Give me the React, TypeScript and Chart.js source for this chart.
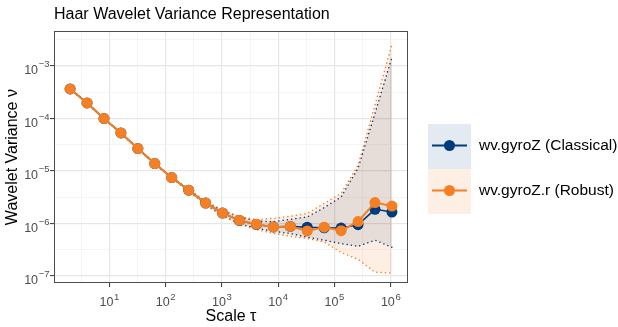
import React, { useEffect, useRef } from "react";
import { Chart, registerables } from "chart.js";

Chart.register(...registerables);

// ---- data ----
const SCALES = [2, 4, 8, 16, 32, 64, 128, 256, 512, 1024, 2048, 4096, 8192, 16384, 32768, 65536, 131072, 262144, 524288, 1048576];

const CLASSICAL = [3.65e-4, 1.97e-4, 9.95e-5, 5.29e-5, 2.67e-5, 1.38e-5, 7.49e-6, 4.3e-6, 2.45e-6, 1.58e-6, 1.14e-6, 9.6e-7, 8.6e-7, 8.8e-7, 8.5e-7, 8.3e-7, 8.2e-7, 9.5e-7, 1.86e-6, 1.65e-6];
const CLASSICAL_UPPER = [3.67e-4, 1.98e-4, 1.0e-4, 5.32e-5, 2.69e-5, 1.39e-5, 7.56e-6, 4.45e-6, 2.6e-6, 1.76e-6, 1.32e-6, 1.12e-6, 1.08e-6, 1.2e-6, 1.33e-6, 2.0e-6, 3.2e-6, 1.13e-5, 1.25e-4, 1.47e-3];
const CLASSICAL_LOWER = [3.63e-4, 1.96e-4, 9.9e-5, 5.26e-5, 2.65e-5, 1.37e-5, 7.42e-6, 4.15e-6, 2.3e-6, 1.42e-6, 9.9e-7, 8.1e-7, 7.1e-7, 6.45e-7, 5.5e-7, 4.8e-7, 4.14e-7, 3.68e-7, 4.8e-7, 3.52e-7];

const ROBUST = [3.65e-4, 1.97e-4, 9.95e-5, 5.29e-5, 2.67e-5, 1.38e-5, 7.49e-6, 4.3e-6, 2.45e-6, 1.58e-6, 1.15e-6, 9.7e-7, 8.6e-7, 8.8e-7, 7.2e-7, 8.5e-7, 7.3e-7, 1.09e-6, 2.5e-6, 2.15e-6];
const ROBUST_UPPER = [3.68e-4, 1.985e-4, 1.003e-4, 5.33e-5, 2.7e-5, 1.395e-5, 7.6e-6, 4.52e-6, 2.66e-6, 1.8e-6, 1.36e-6, 1.19e-6, 1.25e-6, 1.37e-6, 1.55e-6, 2.4e-6, 3.76e-6, 1.29e-5, 1.83e-4, 2.59e-3];
const ROBUST_LOWER = [3.62e-4, 1.955e-4, 9.87e-5, 5.25e-5, 2.64e-5, 1.365e-5, 7.38e-6, 4.1e-6, 2.26e-6, 1.38e-6, 9.6e-7, 7.6e-7, 6.5e-7, 5.7e-7, 5.2e-7, 4.45e-7, 2.8e-7, 2.08e-7, 1.18e-7, 1.14e-7];

const SERIES_LABELS = ["wv.gyroZ (Classical)", "wv.gyroZ.r (Robust)"];
const TITLE = "Haar Wavelet Variance Representation";
const X_TITLE = "Scale \u03c4";
const Y_TITLE = "Wavelet Variance \u03bd";

// major tick exponents (labels are 10^e) and minor grid exponents
const X_TICK_EXPONENTS = [1, 2, 3, 4, 5, 6];
const X_MINOR_EXPONENTS = [0.5, 1.5, 2.5, 3.5, 4.5, 5.5];
const Y_TICK_EXPONENTS = [-7, -6, -5, -4, -3];
const Y_MINOR_EXPONENTS = [-6.5, -5.5, -4.5, -3.5, -2.5];

const X_MIN = 10 ** 0.015;
const X_MAX = 10 ** 6.306;
const Y_MIN = 10 ** -7.133;
const Y_MAX = 10 ** -2.339;

// ---- styles ----
const BLUE = "#003C7D";
const ORANGE = "#F47F24";
const BLUE_FILL = "rgba(0,60,125,0.11)";
const ORANGE_FILL = "rgba(244,127,36,0.12)";
const FONT = "'Liberation Sans', Arial, Helvetica, sans-serif";
const TICK_COLOR = "#4D4D4D";

function isMajor(v: number): boolean {
  const l = Math.log10(v);
  return Math.abs(l - Math.round(l)) < 1e-6;
}

const tickValues = (major: number[], minor: number[]) =>
  [...major, ...minor].sort((a, b) => a - b).map((e) => ({ value: 10 ** e }));

const pts = (ys: number[]) => SCALES.map((x, i) => ({ x, y: ys[i] }));

function drawPow(ctx: CanvasRenderingContext2D, exp: number, x: number, baseY: number, raise: number, align: "center" | "right") {
  const base = "10";
  const e = String(exp).replace("-", "\u2212");
  ctx.font = `12.5px ${FONT}`;
  const wb = ctx.measureText(base).width;
  ctx.font = `9.5px ${FONT}`;
  const we = ctx.measureText(e).width;
  const gap = 0.6;
  const total = wb + gap + we;
  const x0 = align === "center" ? x - total / 2 : x - total;
  ctx.textAlign = "left";
  ctx.textBaseline = "alphabetic";
  ctx.fillStyle = TICK_COLOR;
  ctx.font = `12.5px ${FONT}`;
  ctx.fillText(base, x0, baseY);
  ctx.font = `9.5px ${FONT}`;
  ctx.fillText(e, x0 + wb + gap, baseY - raise);
}

const ggDecor = {
  id: "ggDecor",
  afterDraw(chart: any) {
    const ctx = chart.ctx as CanvasRenderingContext2D;
    const area = chart.chartArea;
    ctx.save();
    // panel border
    ctx.strokeStyle = "#4d4d4d";
    ctx.lineWidth = 1;
    ctx.strokeRect(Math.round(area.left) + 0.5, Math.round(area.top) + 0.5, Math.round(area.right - area.left) - 1, Math.round(area.bottom - area.top) - 1);

    // tick labels as 10^e
    const xs = chart.scales.x;
    const ys = chart.scales.y;
    for (const e of X_TICK_EXPONENTS) {
      const px = xs.getPixelForValue(10 ** e);
      drawPow(ctx, e, px, area.bottom + 22.5, 5.8, "center");
    }
    for (const e of Y_TICK_EXPONENTS) {
      const py = ys.getPixelForValue(10 ** e);
      drawPow(ctx, e, area.left - 4.5, py + 8.3, 7.2, "right");
    }

    // legend
    const items = [
      { label: SERIES_LABELS[0], color: BLUE, bg: BLUE_FILL },
      { label: SERIES_LABELS[1], color: ORANGE, bg: ORANGE_FILL },
    ];
    const keyW = 43;
    const keyH = 45;
    const x0 = area.right + 20;
    const mid = (area.top + area.bottom) / 2;
    let y = Math.round(mid - 33);
    for (const it of items) {
      ctx.fillStyle = "#ffffff";
      ctx.fillRect(x0, y, keyW, keyH);
      ctx.fillStyle = it.bg;
      ctx.fillRect(x0, y, keyW, keyH);
      const cy = y + 21.5;
      ctx.strokeStyle = it.color;
      ctx.lineWidth = 1.8;
      ctx.beginPath();
      ctx.moveTo(x0 + 4, cy);
      ctx.lineTo(x0 + 39, cy);
      ctx.stroke();
      ctx.fillStyle = it.color;
      ctx.beginPath();
      ctx.arc(x0 + 21.5, cy, 5.5, 0, Math.PI * 2);
      ctx.fill();
      ctx.fillStyle = "#000000";
      ctx.font = `15.5px ${FONT}`;
      ctx.textBaseline = "middle";
      ctx.textAlign = "left";
      ctx.fillText(it.label, x0 + 51, cy);
      y += keyH;
    }
    ctx.restore();
  },
};

function gridColor(ctx: any) {
  const v = ctx.tick ? ctx.tick.value : 0;
  return isMajor(v) ? "#E6E6E6" : "#F1F1F1";
}
function gridWidth(ctx: any) {
  const v = ctx.tick ? ctx.tick.value : 0;
  return isMajor(v) ? 1.2 : 0.8;
}
function tickColor(ctx: any) {
  const v = ctx.tick ? ctx.tick.value : 0;
  return isMajor(v) ? "#333333" : "rgba(0,0,0,0)";
}

export default function App() {
  const ref = useRef<HTMLCanvasElement | null>(null);

  useEffect(() => {
    if (!ref.current) return;
    Chart.defaults.font.family = FONT;
    const dotted = { borderDash: [0.1, 4.2], borderCapStyle: "round" as const, borderWidth: 1.5, pointRadius: 0, tension: 0 };
    const chart = new Chart(ref.current, {
      type: "line",
      data: {
        datasets: [
          {
            label: SERIES_LABELS[1],
            data: pts(ROBUST),
            borderColor: ORANGE,
            backgroundColor: ORANGE,
            borderWidth: 2,
            pointRadius: 5.5,
            pointBorderWidth: 0,
            pointBackgroundColor: ORANGE,
            fill: false,
            order: 0,
          },
          {
            label: SERIES_LABELS[0],
            data: pts(CLASSICAL),
            borderColor: BLUE,
            backgroundColor: BLUE,
            borderWidth: 1.6,
            pointRadius: 5.5,
            pointBorderWidth: 0,
            pointBackgroundColor: BLUE,
            fill: false,
            order: 1,
          },
          { label: "classical upper", data: pts(CLASSICAL_UPPER), borderColor: BLUE, backgroundColor: BLUE_FILL, fill: "+1", order: 3, ...dotted },
          { label: "classical lower", data: pts(CLASSICAL_LOWER), borderColor: BLUE, backgroundColor: BLUE_FILL, fill: false, order: 3, ...dotted },
          { label: "robust upper", data: pts(ROBUST_UPPER), borderColor: ORANGE, backgroundColor: ORANGE_FILL, fill: "+1", order: 2, ...dotted },
          { label: "robust lower", data: pts(ROBUST_LOWER), borderColor: ORANGE, backgroundColor: ORANGE_FILL, fill: false, order: 2, ...dotted },
        ] as any,
      },
      options: {
        animation: false,
        responsive: false,
        devicePixelRatio: 1,
        layout: { padding: { left: 0, right: 210, top: 0, bottom: 0 } },
        plugins: {
          legend: { display: false },
          tooltip: { enabled: false },
          filler: { drawTime: "beforeDatasetsDraw" } as any,
          title: {
            display: true,
            text: TITLE,
            align: "start",
            fullSize: false,
            color: "#000000",
            font: { size: 16, family: FONT, weight: "normal" },
            padding: { top: 5, bottom: 7 },
          },
        },
        scales: {
          x: {
            type: "logarithmic",
            min: X_MIN,
            max: X_MAX,
            afterBuildTicks: (scale: any) => {
              scale.ticks = tickValues(X_TICK_EXPONENTS, X_MINOR_EXPONENTS);
            },
            afterFit: (scale: any) => {
              scale.height = 44;
            },
            ticks: { display: false, autoSkip: false, maxRotation: 0, minRotation: 0 },
            grid: { color: gridColor, lineWidth: gridWidth, tickColor: tickColor, tickLength: 4, tickWidth: 1 } as any,
            border: { display: false },
            title: { display: true, text: X_TITLE, color: "#000000", font: { size: 16, family: FONT }, padding: { top: 0, bottom: 0.5 } },
          },
          y: {
            type: "logarithmic",
            min: Y_MIN,
            max: Y_MAX,
            afterBuildTicks: (scale: any) => {
              scale.ticks = tickValues(Y_TICK_EXPONENTS, Y_MINOR_EXPONENTS);
            },
            afterFit: (scale: any) => {
              scale.width = 54;
            },
            ticks: { display: false, autoSkip: false },
            grid: { color: gridColor, lineWidth: gridWidth, tickColor: tickColor, tickLength: 4, tickWidth: 1 } as any,
            border: { display: false },
            title: { display: true, text: Y_TITLE, color: "#000000", font: { size: 16, family: FONT }, padding: { top: 3, bottom: 0 } },
          },
        },
      },
      plugins: [ggDecor],
    });
    return () => chart.destroy();
  }, []);

  return (
    <div style={{ position: "fixed", left: 0, top: 0, width: 618, height: 327, background: "#ffffff" }}>
      <canvas ref={ref} width={618} height={327} style={{ display: "block", width: 618, height: 327 }} />
    </div>
  );
}
